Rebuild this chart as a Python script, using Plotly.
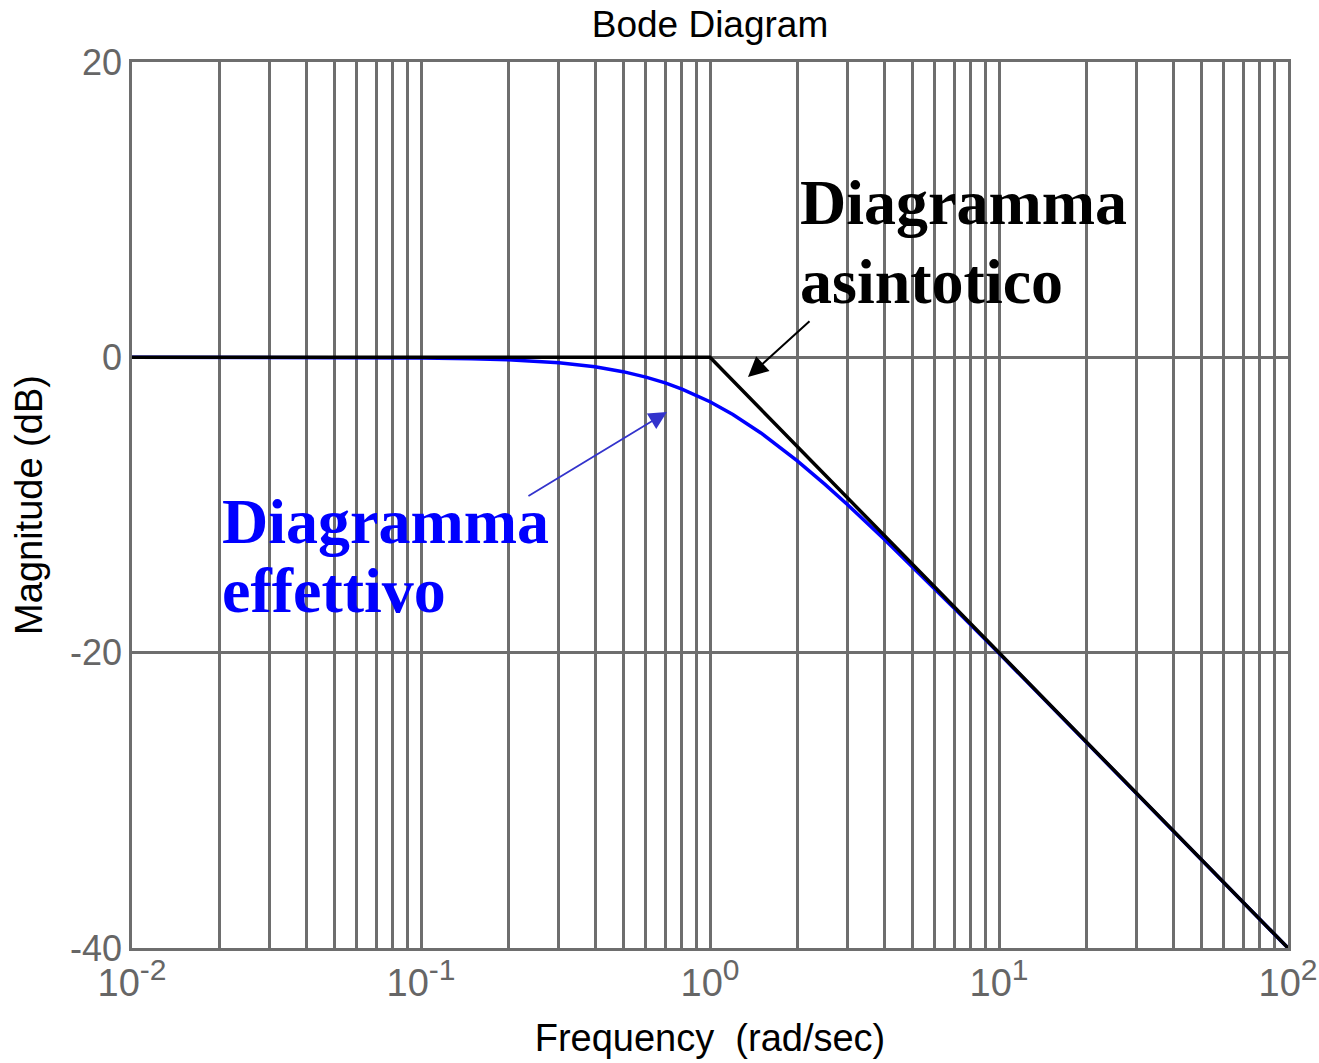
import plotly.graph_objects as go

# Frequency response of a first-order low-pass system
freq = [0.01, 0.02, 0.05, 0.1, 0.15, 0.2, 0.3, 0.4, 0.5, 0.6, 0.7, 0.8, 1.0,
        1.2, 1.5, 2.0, 2.5, 3.0, 4.0, 5.0, 7.0, 10.0, 15.0, 20.0, 30.0, 50.0,
        70.0, 100.0]
mag_real = [0.0, 0.0, 0.0, -0.04, -0.1, -0.17, -0.37, -0.64, -0.97, -1.34,
            -1.73, -2.15, -3.01, -3.87, -5.12, -6.99, -8.6, -10.0, -12.3,
            -14.15, -17.0, -20.04, -23.55, -26.03, -29.55, -33.98, -36.9, -40.0]

# Asymptotic (straight-line) approximation
freq_asym = [0.01, 1.0, 100.0]
mag_asym = [0.0, 0.0, -40.0]

# Axis ticks
decades = [-2, -1, 0, 1, 2]
y_ticks = [20, 0, -20, -40]

grid_vals = []
grid_text = []
for d in decades:
    for k in range(1, 10):
        if d == 2 and k > 1:
            break
        grid_vals.append(k * 10.0 ** d)
        grid_text.append("10<sup><span style='font-size:30px'>%d</span></sup>" % d
                         if k == 1 else "")

GRID = "#6e6e6e"

fig = go.Figure()
fig.add_trace(go.Scatter(x=freq, y=mag_real, mode="lines",
                         line=dict(color="#0000ff", width=3.5), showlegend=False))
fig.add_trace(go.Scatter(x=freq_asym, y=mag_asym, mode="lines",
                         line=dict(color="#000000", width=3.5), showlegend=False))

fig.update_layout(
    width=1319, height=1063,
    margin=dict(l=132, r=31, t=62, b=115),
    paper_bgcolor="white", plot_bgcolor="white",
    font=dict(family="Liberation Sans, Arial, sans-serif", color="#000000"),
    title=dict(text="Bode Diagram", x=0.5 * (132 + 1288) / 1319, xanchor="center",
               y=1 - 24 / 1063, yanchor="middle",
               font=dict(size=37, color="#000000")),
)

fig.update_xaxes(
    type="log", range=[-2, 2], automargin=False,
    tickmode="array", tickvals=grid_vals, ticktext=grid_text,
    showgrid=True, gridcolor=GRID, gridwidth=2.5,
    showline=True, linecolor=GRID, linewidth=2.5, mirror=True,
    ticks="", tickfont=dict(size=38, color="#666666"),
    title=dict(text="Frequency  (rad/sec)", font=dict(size=38, color="#000000"),
               standoff=22),
    zeroline=False,
)
fig.update_yaxes(
    range=[-40, 20], automargin=False,
    tickmode="array", tickvals=y_ticks,
    ticktext=[str(v) for v in y_ticks],
    showgrid=True, gridcolor=GRID, gridwidth=2.5,
    showline=True, linecolor=GRID, linewidth=2.5, mirror=True,
    ticks="", tickfont=dict(size=36, color="#666666"),
    title=dict(text="Magnitude (dB)", font=dict(size=38, color="#000000"),
               standoff=16),
    zeroline=False,
)

serif = "Liberation Serif, Times New Roman, serif"

def label(text, x, y, color):
    fig.add_annotation(text="<b>%s</b>" % text, xref="paper", yref="paper",
                       x=x, y=y, xanchor="left", yanchor="middle",
                       showarrow=False,
                       font=dict(family=serif, size=64, color=color))

label("Diagramma", 0.5760, 0.8409, "#000000")
label("asintotico", 0.5760, 0.7520, "#000000")
label("Diagramma", 0.0761, 0.4819, "#0000ff")
label("effettivo", 0.0761, 0.4040, "#0000ff")

# Arrows pointing to the two curves
fig.add_annotation(x=0.1315, y=-1.33, xref="x", yref="y", text="",
                   showarrow=True, arrowhead=2, arrowsize=2, arrowwidth=2,
                   arrowcolor="#000000", ax=63, ay=-57)
fig.add_annotation(x=-0.149, y=-3.70, xref="x", yref="y", text="",
                   showarrow=True, arrowhead=2, arrowsize=2, arrowwidth=1.8,
                   arrowcolor="#3333cc", ax=-140, ay=85)

fig.write_html("out.html")
